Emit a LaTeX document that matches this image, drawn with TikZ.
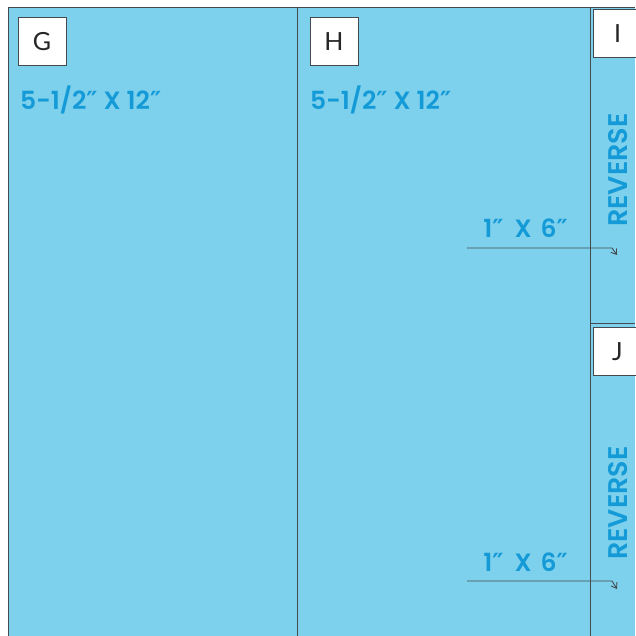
\documentclass[tikz,border=0pt]{standalone}
\usepackage{fontspec}
\newfontfamily\boxfont{Lato}
\newfontfamily\dimfont{Poppins}[BoldFont={Poppins SemiBold}]
\newfontfamily\primefont{DejaVu Sans}
\newcommand{\inch}{{\primefont\bfseries ″}}
\usetikzlibrary{arrows.meta}
\definecolor{panelblue}{RGB}{126,209,236}
\definecolor{textblue}{RGB}{20,155,215}
\definecolor{edgegray}{RGB}{68,74,78}
\tikzset{
  letterbox/.style={draw=edgegray, fill=white, line width=1pt, minimum size=48pt, inner sep=0pt, font=\boxfont\fontsize{25}{25}\selectfont, text=black!85},
  dimtext/.style={text=textblue, inner sep=0pt, font=\dimfont\bfseries\fontsize{25}{25}\selectfont},
  revtext/.style={dimtext, rotate=90, font=\dimfont\bfseries\fontsize{27}{27}\selectfont},
  cutline/.style={draw=edgegray, line width=0.9pt},
  pointer/.style={draw=edgegray, line width=0.9pt, -{Straight Barb[length=5pt,width=7pt]}}
}
\begin{document}
\begin{tikzpicture}[x=1pt,y=-1pt]
\useasboundingbox (0,0) rectangle (635,636);
\fill[panelblue] (8,7) rectangle (635,636);
% panel edges
\path[cutline] (8,636) -- (8,7) -- (635,7);
\path[cutline] (297,7) -- (297,636);
\path[cutline] (590,7) -- (590,636);
\path[cutline] (590,323) -- (635,323);
% panel letters
\node[letterbox] (G) at (42,42) {G};
\node[letterbox] (H) at (334,42) {H};
\node[letterbox, anchor=north west] (I) at (593,9) {I};
\node[letterbox, anchor=north west] (J) at (593,327) {J};
% sizes
\node[dimtext, anchor=west] (sizeG) at (20,100) {5-1/2\inch{} X 12\inch};
\node[dimtext, anchor=west] (sizeH) at (310,100) {5-1/2\inch{} X 12\inch};
\node[dimtext, anchor=east] (sizeI) at (568,228) {1\inch\hspace{5pt} X\hspace{3pt} 6\inch};
\node[dimtext, anchor=east] (sizeJ) at (568,562) {1\inch\hspace{5pt} X\hspace{3pt} 6\inch};
\node[revtext] (revI) at (618,170) {REVERSE};
\node[revtext] (revJ) at (618,503) {REVERSE};
% pointers to the strips
\coordinate (startI) at (467,248);
\coordinate (bendI) at (612,248);
\coordinate (endI) at (617,255);
\coordinate (startJ) at (467,581);
\coordinate (bendJ) at (612,581);
\coordinate (endJ) at (617,589);
\path[pointer] (startI) -- (bendI) -- (endI);
\path[pointer] (startJ) -- (bendJ) -- (endJ);
\end{tikzpicture}
\end{document}
